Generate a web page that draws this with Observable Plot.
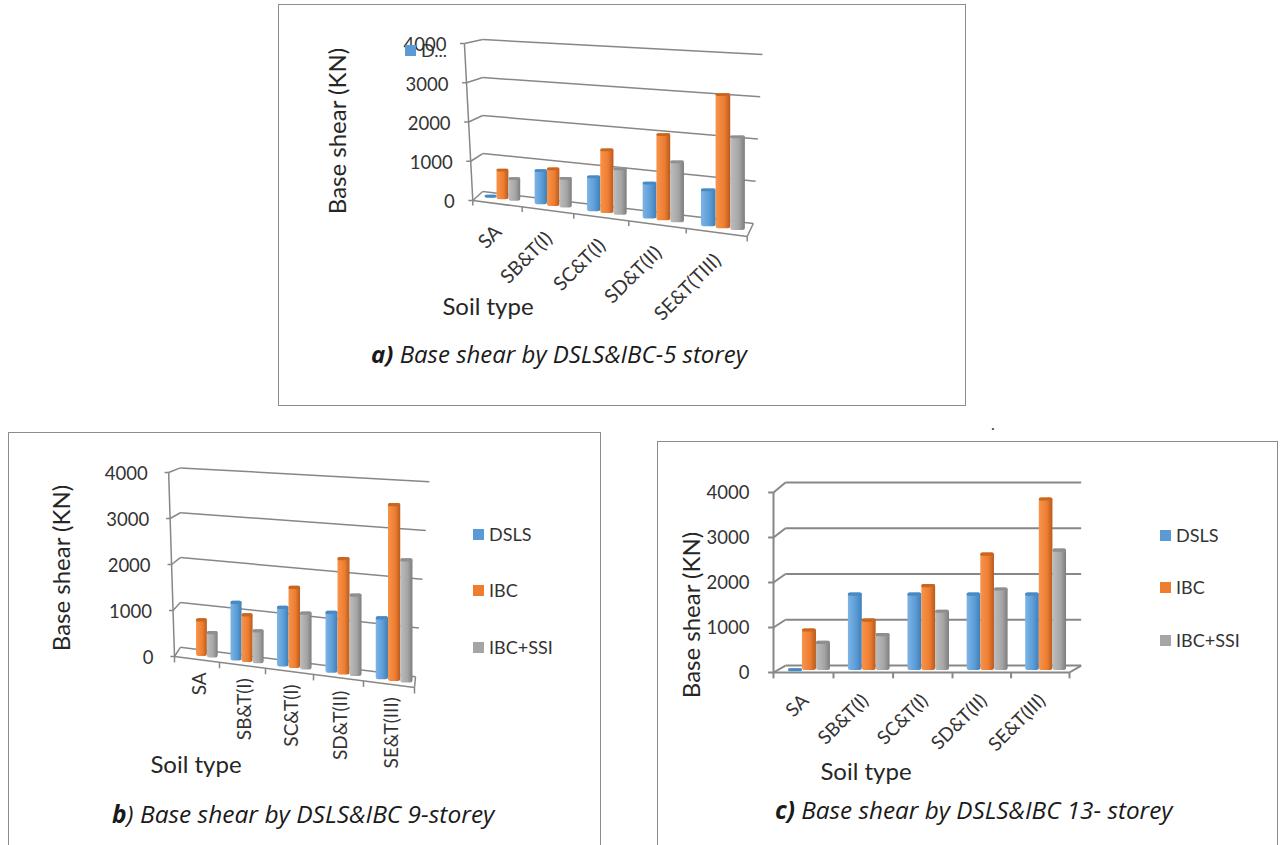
<!DOCTYPE html>
<html><head><meta charset="utf-8">
<script src="https://cdn.jsdelivr.net/npm/d3@7"></script>
<script src="https://cdn.jsdelivr.net/npm/@observablehq/plot@0.6"></script>
<style>
html,body{margin:0;padding:0;background:#fff;width:1282px;height:845px;overflow:hidden}
body{position:relative;font-family:Lato,sans-serif;color:#262626}
.panel{position:absolute;box-sizing:border-box;border:1px solid #8c8c8c;background:#fff}
.panel svg{position:absolute;left:0;top:0;overflow:visible;background:transparent}
.cap{position:absolute;font-style:italic;white-space:nowrap;color:#1a1a1a;font-family:"Open Sans",sans-serif}
.lg{position:absolute;font-size:18px;white-space:nowrap;color:#333;line-height:16px}
.sw{position:absolute;width:11px;height:11px}
</style></head><body>
<script>
const storeyNames = ["5 storey","9 storey","13 storey"];
const seriesNames = ["DSLS","IBC","IBC+SSI"];
const yTicks = [0,1000,2000,3000,4000];
const colTicks = [0,1,2,3,4,5];

const labelsA = ["SA","SB&T(I)","SC&T(I)","SD&T(II)","SE&T(TIII)"];
const labelsB = ["SA","SB&T(I)","SC&T(I)","SD&T(II)","SE&T(III)"];
const labelsC = ["SA","SB&T(I)","SC&T(I)","SD&T(II)","SE&T(III)"];

const dslsA = [75,890,910,940,960];
const ibcA  = [780,980,1640,2220,3440];
const ssiA  = [600,780,1200,1570,2410];

const dslsB = [0,1300,1320,1350,1370];
const ibcB  = [820,1060,1790,2550,3870];
const ssiB  = [575,740,1260,1790,2700];

const dslsC = [40,1720,1720,1720,1720];
const ibcC  = [925,1145,1910,2610,3835];
const ssiC  = [650,820,1340,1835,2700];

const colors = {
  "DSLS":   {id:"gb", a:"#7db4e6", b:"#5b9bd5", c:"#3f7fb9", cap:"#4a8ac4", sw:"#5b9bd5"},
  "IBC":    {id:"go", a:"#f7944c", b:"#ed7d31", c:"#b85a1c", cap:"#c9661f", sw:"#ed7d31"},
  "IBC+SSI":{id:"gg", a:"#bdbdbd", b:"#a5a5a5", c:"#7d7d7d", cap:"#8f8f8f", sw:"#a5a5a5"}
};

function defs(){
  const g = d3.create("svg:g");
  const d = g.append("defs");
  for (const k of seriesNames){
    const c = colors[k];
    const lg = d.append("linearGradient").attr("id",c.id).attr("x1",0).attr("x2",1).attr("y1",0).attr("y2",0);
    lg.append("stop").attr("offset","0").attr("stop-color",c.a);
    lg.append("stop").attr("offset","0.6").attr("stop-color",c.b);
    lg.append("stop").attr("offset","1").attr("stop-color",c.c);
  }
  return g.node();
}

function chart(cfg){
  const {box, xPx, yPx, drop, lift, lean, wall, labels, vals, rot, lab} = cfg;
  const fl = t => {
    const a = xPx[0], b = xPx[5];
    const i = Math.min(4, Math.max(0, Math.floor(t)));
    const px = xPx[i] + (xPx[i+1]-xPx[i])*(t-i);
    return -drop*(px-a)/(b-a);
  };
  const axT = v => lean*v/4000;
  const wL = v => wall.sL*v + wall.oL;
  const wR = v => wall.sR*v + wall.oR;
  const wRt = v => wall.t0 + (wall.t4-wall.t0)*v/4000;

  const rows = [];
  labels.forEach((l,i)=> seriesNames.forEach((s,j)=>{
    const v = vals[j][i];
    if (v>0){
      const x1 = i + 0.25 + j*cfg.barW, x2 = x1 + cfg.barW;
      const base = fl((x1+x2)/2) + lift;
      rows.push({s, x1, x2, base, top: base+v});
    }
  }));
  const bars = seriesNames.flatMap(s => {
    const d = rows.filter(r=>r.s===s);
    return [
      Plot.rect(d,{x1:"x1",x2:"x2",y1:"base",y2:"top",fill:`url(#${colors[s].id})`,rx:2.5}),
      Plot.rect(d,{x1:"x1",x2:"x2",y1:r=>r.top-70,y2:"top",fill:colors[s].cap,rx:1.5})
    ];
  });
  const grey = {stroke:"#878787",strokeWidth:cfg.gridW};
  const catLabels = labels.map((l,i)=>({l,i}));
  return Plot.plot({
    width:box[2]-2, height:box[3]-1, margin:0,
    style:{fontFamily:"Lato,sans-serif",background:"transparent"},
    x:{type:"linear",domain:colTicks,range:xPx.map(p=>p-box[0]-1),axis:null},
    y:{type:"linear",domain:[0,4000],range:yPx.map(p=>p-box[1]-1),axis:null},
    marks:[
      defs,
      Plot.link(yTicks,{x1:wall.tL,y1:wL,x2:wRt,y2:wR,...grey}),
      Plot.link(yTicks,{x1:axT,y1:v=>v,x2:wall.tL,y2:wL,...grey}),
      Plot.link([0],{x1:0,y1:0,x2:5,y2:fl(5),...grey}),
      Plot.link([0],{x1:5,y1:fl(5),x2:wRt,y2:wR,...grey}),
      Plot.link([0],{x1:axT(4000),y1:4000,x2:0,y2:0,...grey}),
      Plot.link(yTicks,{x1:axT,y1:v=>v,x2:v=>axT(v)-0.09,y2:v=>v,...grey}),
      Plot.link(colTicks,{x1:t=>t,y1:fl,x2:t=>t,y2:t=>fl(t)-130,...grey}),
      ...bars,
      Plot.text(yTicks,{x:axT,y:v=>v,text:String,textAnchor:"end",dx:cfg.tickDx,dy:cfg.tickDy,fontSize:cfg.tickFs,fill:"#333"}),
      Plot.text(catLabels,{x:d=>d.i+lab.t,y:d=>fl(d.i+0.5),text:"l",rotate:rot,textAnchor:"end",lineAnchor:"middle",dx:lab.dx,dy:lab.dy,fontSize:lab.fs,fill:"#333"})
    ]
  });
}

function addPanel(cfg){
  const p = document.createElement("div");
  p.className="panel";
  const [l,t,w,h]=cfg.box;
  Object.assign(p.style,{left:l+"px",top:t+"px",width:w+"px",height:h+"px"});
  if(cfg.open) p.style.borderBottom="none";
  p.appendChild(chart(cfg));
  document.body.appendChild(p);
  const mk=(cls,css,html)=>{const e=document.createElement("div");e.className=cls;Object.assign(e.style,css);e.innerHTML=html;document.body.appendChild(e);return e;};
  mk("lg",{left:cfg.yTitle[0]+"px",top:cfg.yTitle[1]+"px",fontSize:cfg.titleFs+"px",lineHeight:"1",transform:"translate(-50%,-50%) rotate(-90deg)",color:"#262626"},"Base shear (KN)");
  mk("lg",{left:cfg.xTitle[0]+"px",top:cfg.xTitle[1]+"px",fontSize:cfg.titleFs+"px",lineHeight:"1",transform:"translate(-50%,-50%)",color:"#262626"},"Soil type");
  mk("cap",{left:cfg.cap[0]+"px",top:cfg.cap[1]+"px",transform:"translateY(-50%)",fontSize:cfg.capFs+"px"},cfg.capHtml);
  cfg.legend.forEach(it=>{
    mk("sw",{left:it.x+"px",top:(it.y-5)+"px",background:colors[it.s].sw},"");
    mk("lg",{left:(it.x+16)+"px",top:(it.y-8)+"px"},it.t);
  });
}

addPanel({
  box:[278,4,688,402],
  xPx:[472.3,521.7,573.3,628.3,685.7,746.7], yPx:[200,43], drop:917, lift:120, lean:-0.17, barW:0.24, gridW:1.5,
  wall:{tL:0.2,t0:5.1,t4:5.25,sL:0.968,oL:229,sR:1.076,oR:-586},
  labels:labelsA, vals:[dslsA,ibcA,ssiA], rot:-45,
  lab:{t:0.5,dx:1,dy:25,fs:19.5}, tickDx:-18, tickDy:2, tickFs:18.5,
  yTitle:[337,131], xTitle:[488,306], titleFs:24,
  cap:[371,353], capFs:24, capHtml:"<b>a)</b> Base shear by DSLS&amp;IBC-5 storey",
  legend:[{x:405,y:50,s:"DSLS",t:"D..."}]
});
addPanel({
  box:[8,432,593,414], open:true,
  xPx:[174,219,265,313,363,414], yPx:[656,472], drop:674, lift:76, lean:-0.13, barW:0.24, gridW:1.5,
  wall:{tL:0.13,t0:5.02,t4:5.29,sL:0.975,oL:200,sR:1.06,oR:-440},
  labels:labelsB, vals:[dslsB,ibcB,ssiB], rot:-90,
  lab:{t:0.5,dx:2.5,dy:13,fs:19}, tickDx:-21, tickDy:2, tickFs:18.5,
  yTitle:[61,568], xTitle:[196,764], titleFs:24,
  cap:[112,813], capFs:24.5, capHtml:"<b>b</b>) Base shear by DSLS&amp;IBC 9-storey",
  legend:[{x:473,y:534,s:"DSLS",t:"DSLS"},{x:473,y:590,s:"IBC",t:"IBC"},{x:473,y:647,s:"IBC+SSI",t:"IBC+SSI"}]
});
addPanel({
  box:[657,441,621,405], open:true,
  xPx:[773,833,892.6,952,1010.6,1069], yPx:[672,492], drop:0, lift:44, lean:0, barW:0.233, gridW:2,
  wall:{tL:0.2,t0:5.2,t4:5.2,sL:1.017,oL:155,sR:1.017,oR:155},
  labels:labelsC, vals:[dslsC,ibcC,ssiC], rot:-45,
  lab:{t:0.5,dx:2,dy:25,fs:19}, tickDx:-24, tickDy:1, tickFs:18.5,
  yTitle:[691,615], xTitle:[866,771], titleFs:24,
  cap:[775,809], capFs:24.3, capHtml:"<b>c)</b> Base shear by DSLS&amp;IBC 13- storey",
  legend:[{x:1160,y:535,s:"DSLS",t:"DSLS"},{x:1160,y:587,s:"IBC",t:"IBC"},{x:1160,y:640,s:"IBC+SSI",t:"IBC+SSI"}]
});
const dot=document.createElement("div");dot.className="lg";Object.assign(dot.style,{left:"991px",top:"416px",fontSize:"16px"});dot.textContent=".";document.body.appendChild(dot);
</script>
</body></html>
